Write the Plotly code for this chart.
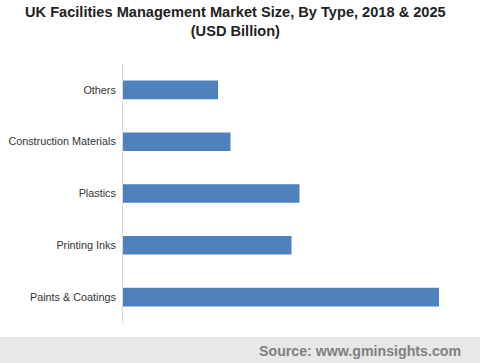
import plotly.graph_objects as go

categories = ["Paints & Coatings", "Printing Inks", "Plastics", "Construction Materials", "Others"]
values = [3.16, 1.685, 1.765, 1.075, 0.95]

W, H = 480, 363
ml, mr, mt, mb = 123, 15, 64, 40
pw = W - ml - mr
ph = H - mt - mb

fig = go.Figure(go.Bar(
    y=categories, x=values, orientation="h",
    marker=dict(color="#4f81bd", line=dict(width=0)),
    hoverinfo="skip",
))

fig.update_layout(
    width=W, height=H,
    margin=dict(l=ml, r=mr, t=mt, b=mb, autoexpand=False),
    paper_bgcolor="white", plot_bgcolor="white",
    bargap=0.64,
    showlegend=False,
    font=dict(family="Liberation Sans, Arial, sans-serif", color="#333333"),
    xaxis=dict(range=[0, 3.42], showgrid=False, zeroline=False, showticklabels=False,
               showline=False, fixedrange=True, automargin=False),
    yaxis=dict(showline=True, linecolor="#d9d9d9", linewidth=1, showgrid=False,
               ticks="", tickfont=dict(size=10.8, color="#333333"), ticklabelstandoff=4,
               categoryorder="array", categoryarray=categories, fixedrange=True,
               automargin=False),
    shapes=[dict(type="rect", xref="paper", yref="paper",
                 x0=-ml / pw - 0.01, x1=(W - ml) / pw + 0.01,
                 y0=-(H - (H - mb)) / ph - 0.01, y1=-(337 - (H - mb)) / ph,
                 fillcolor="#e8e8e8", line=dict(width=0), layer="below")],
    annotations=[
        dict(text="<b>UK Facilities Management Market Size, By Type, 2018 &amp; 2025<br>(USD Billion)</b>",
             xref="paper", yref="paper", x=(235 - ml) / pw, y=1 + (mt - 22) / ph,
             xanchor="center", yanchor="middle", showarrow=False,
             font=dict(size=14.6, color="#222222"), align="center"),
        dict(text="<b>Source: www.gminsights.com</b>",
             xref="paper", yref="paper", x=(463 - ml) / pw, y=-(351 - (H - mb)) / ph,
             xanchor="right", yanchor="middle", showarrow=False,
             font=dict(size=14.2, color="#7f7f7f")),
    ],
)

fig.write_html("out.html", config={"displayModeBar": False, "staticPlot": True})
with open("out.html", encoding="utf-8") as f:
    html = f.read()
html = html.replace("<head>", "<head><style>html,body{margin:0;padding:0;overflow:hidden}</style>", 1)
with open("out.html", "w", encoding="utf-8") as f:
    f.write(html)
